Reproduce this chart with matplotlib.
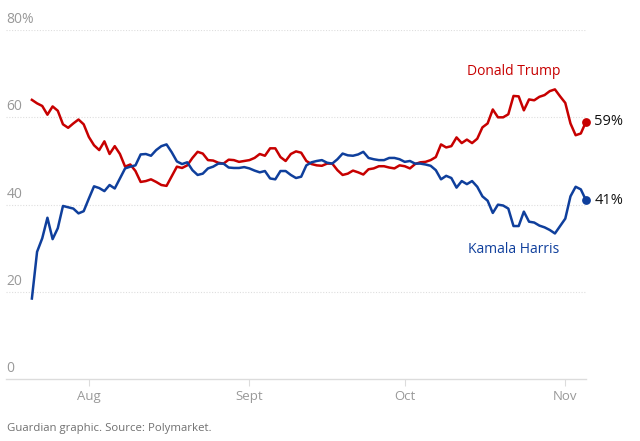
import matplotlib
matplotlib.use("Agg")
import matplotlib.pyplot as plt
import matplotlib.transforms as mtransforms
import numpy as np
import pandas as pd

# daily Polymarket odds, 21 Jul - 5 Nov 2024
start_date = "2024-07-21"
trump = [64.0, 63.2, 62.6, 60.6, 62.5, 61.5, 58.4, 57.6, 58.6, 59.5,
         58.4, 55.5, 53.6, 52.5, 54.5, 51.6, 53.4, 51.6, 48.7, 49.2,
         47.7, 45.2, 45.4, 45.8, 45.2, 44.5, 44.3, 46.5, 48.7, 48.4,
         49.0, 50.7, 52.1, 51.7, 50.2, 50.1, 49.6, 49.4, 50.3, 50.2,
         49.8, 50.0, 50.2, 50.7, 51.6, 51.2, 52.9, 52.9, 50.9, 50.0,
         51.6, 52.2, 51.9, 50.0, 49.3, 49.0, 48.9, 49.4, 49.4, 47.9,
         46.8, 47.1, 47.8, 47.4, 46.9, 48.1, 48.3, 48.8, 48.8, 48.5,
         48.3, 49.0, 48.8, 48.3, 49.3, 49.7, 49.8, 50.2, 50.9, 53.8,
         53.1, 53.4, 55.4, 54.1, 54.9, 54.1, 55.1, 57.7, 58.6, 61.8,
         60.0, 60.0, 60.7, 64.9, 64.8, 61.6, 64.1, 63.9, 64.7, 65.1,
         66.0, 66.4, 64.8, 63.3, 58.6, 55.9, 56.3, 59.0]
harris = [18.5, 29.2, 32.3, 37.0, 32.1, 34.6, 39.7, 39.4, 39.1, 38.0,
          38.5, 41.4, 44.2, 43.8, 43.1, 44.5, 43.7, 46.0, 48.3, 48.7,
          49.0, 51.5, 51.6, 51.2, 52.5, 53.4, 53.8, 52.0, 49.9, 49.3,
          49.7, 47.9, 46.8, 47.1, 48.3, 48.7, 49.4, 49.4, 48.5, 48.4,
          48.4, 48.6, 48.3, 47.8, 47.4, 47.7, 46.0, 45.8, 47.7, 47.7,
          46.8, 46.1, 46.4, 49.0, 49.7, 50.0, 50.2, 49.6, 49.4, 50.4,
          51.7, 51.3, 51.2, 51.5, 52.1, 50.7, 50.4, 50.2, 50.2, 50.7,
          50.7, 50.4, 49.8, 50.0, 49.4, 49.4, 49.2, 48.9, 47.9, 45.8,
          46.6, 46.1, 43.9, 45.4, 44.7, 45.4, 44.1, 41.9, 40.9, 38.1,
          40.0, 39.8, 39.1, 35.1, 35.1, 38.4, 36.1, 35.9, 35.2, 34.8,
          34.2, 33.4, 35.1, 36.8, 41.9, 44.1, 43.5, 41.0]
month_ticks = ["2024-08-01", "2024-09-01", "2024-10-01", "2024-11-01"]
month_labels = ["Aug", "Sept", "Oct", "Nov"]
y_ticks = [0, 20, 40, 60, 80]
y_labels = ["0", "20", "40", "60", "80%"]

RED = "#c70000"
BLUE = "#0f3f9c"
GREY = "#999999"

plt.rcParams["font.family"] = ["Open Sans", "DejaVu Sans"]

dates = pd.date_range(start_date, periods=len(trump), freq="D")

fig = plt.figure(figsize=(6.4, 4.41), dpi=100)
ax = fig.add_axes([6 / 640, 1 - 379.3 / 441, 580 / 640, (379.3 - 30) / 441])

ax.plot(dates, trump, color=RED, lw=1.8, solid_joinstyle="round", zorder=3)
ax.plot(dates, harris, color=BLUE, lw=1.8, solid_joinstyle="round", zorder=3)
ax.scatter([dates[-1]], [trump[-1]], s=28, color=RED, zorder=4, clip_on=False)
ax.scatter([dates[-1]], [harris[-1]], s=28, color=BLUE, zorder=4, clip_on=False)

ax.set_xlim(pd.Timestamp("2024-07-16"), dates[-1])
ax.set_ylim(0, 80)

for s in ["top", "right", "left"]:
    ax.spines[s].set_visible(False)
ax.spines["bottom"].set_color("#dcdcdc")
ax.spines["bottom"].set_linewidth(1)

# gridlines + labels sitting above them
trans = mtransforms.blended_transform_factory(ax.transAxes, ax.transData)
for v, lab in zip(y_ticks, y_labels):
    if v > 0:
        ax.axhline(v, color="#dedede", lw=0.8, ls=(0, (1, 1.5)), zorder=1)
    ax.text(0.001, v + 0.7, lab, transform=trans, ha="left", va="bottom",
            fontsize=10, color=GREY)
ax.set_yticks([])

ax.set_xticks(pd.to_datetime(month_ticks))
ax.set_xticklabels(month_labels)
ax.tick_params(axis="x", length=5, color="#dcdcdc", labelcolor=GREY,
               labelsize=9.5, pad=3)

ax.text(pd.Timestamp("2024-10-22"), 70.5, "Donald Trump", color=RED,
        fontsize=10, ha="center", va="center")
ax.text(pd.Timestamp("2024-10-22"), 29.7, "Kamala Harris", color=BLUE,
        fontsize=10, ha="center", va="center")
ax.annotate("59%", (dates[-1], trump[-1]), xytext=(6, 0), textcoords="offset points",
            ha="left", va="center", fontsize=10.5, color="#121212", annotation_clip=False)
ax.annotate("41%", (dates[-1], harris[-1]), xytext=(6, 0), textcoords="offset points",
            ha="left", va="center", fontsize=10.5, color="#121212", annotation_clip=False)

fig.text(7 / 640, 1 - 429 / 441, "Guardian graphic. Source: Polymarket.",
         fontsize=8.2, color="#707070", ha="left", va="center")

fig.savefig("out.png", dpi=100)
